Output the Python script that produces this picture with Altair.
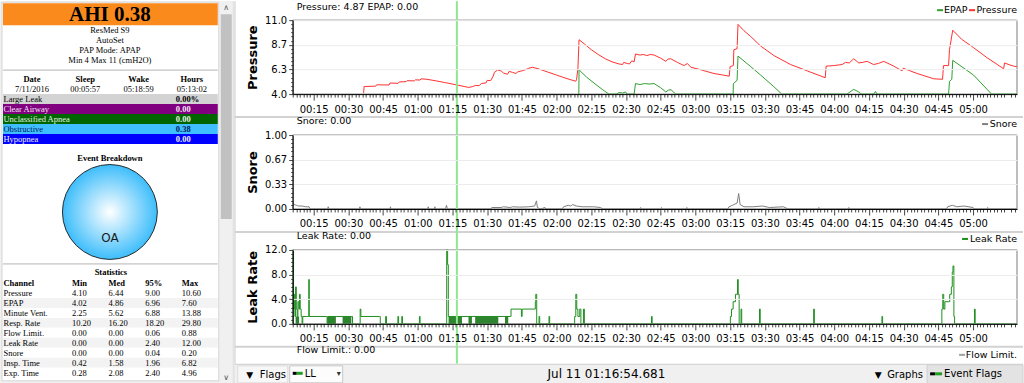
import json
import altair as alt
import pandas as pd

FONT = "DejaVu Sans"
SERIF = "Liberation Serif"

# ---------------- summary panel values ----------------
ahi = 0.38
device_lines = ["ResMed S9", "AutoSet", "PAP Mode: APAP", "Min 4 Max 11 (cmH2O)"]
session_headers = ["Date", "Sleep", "Wake", "Hours"]
session_values = ["7/11/2016", "00:05:57", "05:18:59", "05:13:02"]
event_names = ["Large Leak", "Clear Airway", "Unclassified Apnea", "Obstructive", "Hypopnea"]
event_values = ["0.00%", "0.00", "0.00", "0.38", "0.00"]
event_bg = ["#d3d3d3", "#800080", "#006400", "#3fbfff", "#0000ff"]
event_fg = ["#000000", "#f4e4f4", "#e4f4e4", "#00205a", "#f0f0ff"]
breakdown_labels = ["OA"]
breakdown_values = [0.38]
stat_channels = ["Pressure", "EPAP", "Minute Vent.", "Resp. Rate", "Flow Limit.",
                 "Leak Rate", "Snore", "Insp. Time", "Exp. Time"]
stat_cols = ["Min", "Med", "95%", "Max"]
stat_min = [4.10, 4.02, 2.25, 10.20, 0.00, 0.00, 0.00, 0.42, 0.28]
stat_med = [6.44, 4.86, 5.62, 16.20, 0.00, 0.00, 0.00, 1.58, 2.08]
stat_p95 = [9.00, 6.96, 6.88, 18.20, 0.06, 2.40, 0.04, 1.96, 2.40]
stat_max = [10.60, 7.60, 13.88, 29.80, 0.88, 12.00, 0.20, 6.82, 4.96]

# ---------------- time series (minutes after midnight) ----------------
session_start = 5.95     # 00:05:57
session_end = 318.98     # 05:18:59
cursor_t = 76.91         # 01:16:54.681
cursor_label = "Jul 11 01:16:54.681"
cursor_pressure = 4.87
cursor_epap = 0.00
cursor_snore = 0.00
cursor_leak = 0.00
cursor_flow = 0.00

pressure_t = [36.6, 36.8, 41.8, 42.2, 47.6, 48.0, 51.5, 52.0, 55.0, 55.4, 58.5, 59.0, 61.0, 61.4,
              64.0, 68.0, 72.0, 76.9, 80.0, 82.0, 83.5, 85.0, 86.5, 87.5, 89.5, 90.0, 91.5, 92.6,
              93.1, 94.5, 96.0, 97.0, 98.8, 99.5, 101.0, 102.5, 103.1, 105.0, 106.5, 108.0, 109.6,
              112.0, 116.0, 120.0, 124.0, 127.0, 128.3, 128.6, 129.2, 129.7, 132.0, 135.0, 138.0,
              141.0, 144.0, 147.0, 148.5, 149.0, 150.5, 151.5, 152.5, 153.5, 154.1, 156.0, 157.5,
              159.0, 160.5, 162.1, 165.0, 167.2, 168.0, 169.3, 172.2, 175.1, 176.5, 178.0, 182.3,
              188.0, 192.0, 194.6, 195.0, 196.4, 196.6, 198.0, 198.4, 201.0, 203.9, 208.2, 213.9,
              221.1, 228.3, 236.1, 236.5, 239.8, 243.4, 244.8, 246.5, 248.4, 250.6, 252.0, 254.2,
              257.0, 259.0, 261.4, 265.7, 269.3, 269.8, 275.8, 283.0, 286.8, 287.2, 289.4, 289.8,
              291.2, 295.0, 300.2, 306.0, 313.2, 313.6, 316.0, 317.5, 318.9]
pressure_v = [4.10, 4.72, 4.75, 4.88, 4.86, 5.05, 5.02, 5.15, 5.18, 5.27, 5.25, 5.35, 5.33, 5.45,
              5.40, 5.25, 5.08, 4.87, 4.72, 4.63, 4.70, 4.82, 4.80, 5.00, 5.06, 5.30, 5.28, 5.70,
              6.05, 6.28, 6.20, 6.00, 5.88, 6.15, 6.05, 5.95, 6.10, 6.20, 6.30, 6.45, 6.54,
              6.40, 6.10, 5.80, 5.50, 5.30, 5.22, 5.35, 6.40, 9.15, 8.75, 8.20, 7.75,
              7.35, 7.05, 6.85, 6.80, 7.00, 6.90, 6.85, 7.15, 7.05, 7.80, 7.70, 7.75,
              7.65, 7.75, 7.70, 7.40, 7.10, 7.30, 7.35, 7.00, 6.70, 6.90, 6.55, 6.30,
              5.95, 5.80, 5.70, 6.60, 6.70, 8.20, 8.30, 10.60, 10.00, 9.45, 8.55, 7.65,
              6.80, 6.20, 5.55, 6.65, 6.70, 6.80, 7.00, 6.95, 7.35, 6.95, 7.00, 7.10,
              6.80, 6.90, 7.10, 6.65, 6.20, 6.45, 5.95, 5.45, 5.40, 6.70, 6.70, 8.20,
              10.05, 9.20, 8.40, 7.45, 6.40, 6.95, 6.75, 6.65, 6.60]

epap_t = [129.6, 129.7, 133.0, 137.0, 140.0, 142.6, 146.0, 147.0, 148.5, 149.8, 150.5, 153.5,
          154.1, 156.0, 158.0, 160.0, 162.1, 165.0, 167.2, 168.5, 169.5, 171.5, 196.3, 196.4,
          198.0, 198.4, 203.9, 208.2, 213.9, 217.3, 245.5, 248.4, 250.6, 251.5, 257.0, 257.8,
          258.5, 289.4, 289.8, 290.8, 291.2, 300.2, 308.0, 318.9]
epap_v = [4.00, 6.30, 5.60, 4.90, 4.40, 4.00, 4.00, 4.15, 4.10, 4.20, 4.00, 4.00,
          5.00, 4.90, 5.00, 4.95, 5.00, 4.60, 4.20, 4.40, 4.40, 4.00, 4.00, 5.00,
          5.30, 7.60, 6.60, 5.80, 4.70, 4.00, 4.00, 4.45, 4.20, 4.00, 4.00, 4.25,
          4.00, 4.00, 5.20, 5.40, 7.20, 5.80, 4.00, 4.00]

snore_t = [6.0, 6.6, 7.5, 8.5, 10.0, 11.5, 13.0, 13.5, 21.0, 21.3, 21.6, 34.8, 35.0, 35.2, 48.0,
           48.2, 48.4, 64.3, 64.5, 64.7, 67.2, 67.4, 67.6, 72.0, 72.4, 72.8, 91.5, 92.0, 96.0,
           97.0, 100.0, 101.0, 104.0, 108.0, 110.5, 111.3, 111.7, 113.0, 115.0, 115.4, 122.5,
           123.0, 125.0, 126.0, 127.0, 128.5, 131.0, 136.0, 139.0, 140.0, 156.0, 156.3, 156.6,
           165.0, 165.3, 165.6, 176.0, 176.3, 176.6, 194.0, 194.5, 196.0, 198.0, 198.7, 199.3,
           201.0, 205.0, 209.0, 212.0, 218.0, 220.0, 233.0, 233.3, 233.6, 246.0, 246.3, 246.6,
           288.5, 289.0, 291.0, 293.0, 296.0, 300.0, 300.5, 306.0, 306.3, 306.6, 318.9]
snore_v = [0.09, 0.06, 0.05, 0.04, 0.04, 0.03, 0.03, 0.0, 0.0, 0.03, 0.0, 0.0, 0.03, 0.0, 0.0,
           0.03, 0.0, 0.0, 0.03, 0.0, 0.0, 0.03, 0.0, 0.0, 0.05, 0.0, 0.0, 0.02, 0.02,
           0.03, 0.02, 0.03, 0.025, 0.03, 0.04, 0.11, 0.02, 0.0, 0.02, 0.0, 0.0,
           0.03, 0.05, 0.04, 0.06, 0.04, 0.03, 0.03, 0.02, 0.0, 0.0, 0.02, 0.0,
           0.0, 0.02, 0.0, 0.0, 0.02, 0.0, 0.0, 0.03, 0.05, 0.08, 0.21, 0.06,
           0.03, 0.03, 0.04, 0.02, 0.03, 0.0, 0.0, 0.02, 0.0, 0.0, 0.02, 0.0,
           0.0, 0.03, 0.05, 0.03, 0.04, 0.02, 0.0, 0.0, 0.02, 0.0, 0.0]

leak_t = [5.95, 6.1, 6.3, 6.6, 6.9, 7.2, 7.5, 7.9, 8.2, 8.6, 8.9, 9.2, 9.6, 10.0, 10.3, 11.8, 12.9,
          13.1, 20.5, 20.8, 21.1, 31.5, 31.8, 34.9, 35.1, 35.4, 43.5, 43.8, 46.0, 46.1, 46.5, 51.3,
          51.4, 51.7, 53.0, 53.1, 53.4, 60.6, 60.7, 61.0, 72.4, 72.5, 72.9, 73.2, 100.2, 100.3,
          104.6, 104.8, 105.1, 110.6, 110.8, 111.0, 111.4, 112.3, 112.4, 112.7, 116.6, 116.7,
          117.0, 127.7, 127.8, 128.3, 128.7, 129.2, 130.0, 130.5, 131.5, 131.6, 132.0, 160.9,
          161.0, 161.3, 195.0, 195.1, 195.6, 196.3, 197.3, 198.2, 198.5, 198.9, 199.6, 199.7,
          200.0, 207.6, 207.7, 208.0, 231.0, 231.1, 231.4, 260.5, 260.6, 260.9, 286.4, 286.5,
          286.9, 287.3, 287.8, 289.5, 289.9, 290.6, 291.0, 291.3, 291.7, 292.0, 300.5, 300.6,
          300.9, 318.9]
leak_v = [0, 12.0, 2.4, 4.8, 1.2, 6.0, 2.4, 1.2, 3.6, 2.4, 4.8, 2.4, 1.2, 0, 1.2, 1.2, 7.2,
          1.2, 1.2, 0, 1.2, 1.2, 0, 0, 2.4, 1.2, 1.2, 0, 0, 1.2, 0, 0,
          1.2, 0, 0, 1.2, 0, 0, 1.2, 0, 0, 12.0, 9.6, 1.2, 1.2, 2.4,
          2.4, 1.2, 2.4, 2.4, 3.6, 4.8, 0, 0, 1.2, 0, 0, 1.2,
          0, 0, 1.2, 4.8, 2.4, 1.2, 2.4, 0, 0, 2.4, 0, 0,
          1.2, 0, 0, 1.2, 2.4, 3.6, 4.8, 7.2, 4.8, 0, 0, 2.4,
          0, 0, 2.4, 0, 0, 2.4, 0, 0, 1.2, 0, 0, 2.4,
          4.8, 2.4, 3.6, 3.6, 4.8, 6.0, 8.4, 9.4, 1.2, 0, 0, 2.4,
          0, 0]
# stretches where the leak trace is a dense comb of short spikes
leak_dense_start = [7.2, 21.0, 27.5, 73.3, 81.9, 84.8, 97.7]
leak_dense_end = [8.7, 24.6, 31.3, 79.1, 83.4, 94.8, 99.1]
leak_dense_level = [1.2, 1.2, 1.2, 1.2, 1.2, 1.2, 1.2]

# ---------------- axis tick positions ----------------
time_major = [15 * i for i in range(1, 21)]
time_minor = [1.5 * i for i in range(4, 213) if i % 10]
p_major = [4.0, 4.0 + 7 / 3, 4.0 + 14 / 3, 11.0]
p_minor = [4.0 + k * 7 / 18 for k in range(19) if k % 6]
s_major = [0.0, 1 / 3, 2 / 3, 1.0]
s_minor = [k / 18 for k in range(19) if k % 6]
l_major = [0.0, 4.0, 8.0, 12.0]
l_minor = [k * 2 / 3 for k in range(19) if k % 6]

W = 725        # plot width
PH = 93        # panel view height (plot bottom)
GAP = 22       # room for the time labels between panels


def cond(test, a, b):
    return {"condition": {"test": test, "value": a}, "value": b}


def is_major(majors):
    return f"indexof({json.dumps(majors)}, datum.value) >= 0"


hh = "floor(datum.value/60)"
mm = "(datum.value%60)"
time_label = (f"{is_major(time_major)} ? (({hh}<10)?'0':'') + {hh} + ':' + "
              f"(({mm}<10)?'0':'') + {mm} : ''")

xs = alt.Scale(domain=[session_start, session_end], nice=False, zero=False)

TIME_AXIS = alt.Axis(values=time_major + time_minor, labelExpr=time_label,
                     tickSize=cond(is_major(time_major), 6, 3), tickColor="#444444",
                     domainColor="#000000", labelFont=FONT, labelFontSize=10,
                     labelColor="#000000", labelPadding=4, labelOverlap=False,
                     labelFlush=False, labelBound=False, grid=False, title=None, zindex=1)


def value_axis(majors, minors, fmt, title):
    t = is_major(majors)
    return alt.Axis(values=majors + minors, labelExpr=f"{t} ? format(datum.value, '{fmt}') : ''",
                    tickSize=cond(t, 4, 2), tickColor="#444444", domainColor="#000000",
                    labelFont=FONT, labelFontSize=10, labelColor="#000000", labelPadding=2,
                    labelOverlap=False, labelFlush=False, labelBound=False,
                    grid=True, gridColor="#ececec", gridOpacity=cond(t, 1, 0),
                    title=title, titleFont=FONT, titleFontSize=13, titleFontWeight="bold",
                    titleColor="#000000", titleX=-40, titleBaseline="middle", zindex=1)


def txt(s, x, y, size=10, font=FONT, align="left", weight="normal", color="#000000"):
    return alt.Chart(alt.Data(values=[{"s": s}])).mark_text(
        font=font, fontSize=size, align=align, baseline="middle",
        fontWeight=weight, color=color).encode(x=alt.value(x), y=alt.value(y), text="s:N")


def box(x, x2, y, y2, fill="transparent", stroke=None, sw=1.0):
    props = {"fill": fill}
    if stroke is not None:
        props["stroke"] = stroke
        props["strokeWidth"] = sw
    return alt.Chart(alt.Data(values=[{"k": 0}])).mark_rect(**props).encode(
        x=alt.value(x), x2=alt.value(x2), y=alt.value(y), y2=alt.value(y2))


def hline(x, x2, y, color, sw=1.0):
    return alt.Chart(alt.Data(values=[{"k": 0}])).mark_rule(color=color, strokeWidth=sw).encode(
        x=alt.value(x), x2=alt.value(x2), y=alt.value(y))


cursor_df = pd.DataFrame({"t": [cursor_t]})


def cursor(y2, with_axis=True):
    return alt.Chart(cursor_df).mark_rule(color="#8fe88f", strokeWidth=2).encode(
        x=alt.X("t:Q", scale=xs, axis=TIME_AXIS if with_axis else None),
        y=alt.value(0), y2=alt.value(y2))


def legend(items, y):
    out = []
    for label, colour, dx0, tx, align in items:
        out.append(hline(dx0, dx0 + 6, y, colour, 2))
        out.append(txt(label, tx, y, size=9.5, align=align))
    return out


# ================= left summary panel =================
left_layers = [
    box(0, 236, 0, 383, fill="#f0f0f0"),
    box(2, 219, 1, 380, fill="#ffffff", stroke="#d4d4d4"),
    box(3, 218, 2, 24, fill="#fb8a1d"),
    txt(f"AHI {ahi:.2f}", 110, 14, size=21, font=SERIF, align="center", weight="bold"),
]
dev_df = pd.DataFrame({"i": list(range(len(device_lines))), "s": device_lines})
left_layers.append(alt.Chart(dev_df).mark_text(font=SERIF, fontSize=8.5, align="center").encode(
    x=alt.value(110), y=alt.Y("i:Q", scale=alt.Scale(domain=[0, 3], range=[29, 59]), axis=None),
    text="s:N"))
left_layers.append(hline(3, 218, 69, "#b4b4b4"))
ses_df = pd.DataFrame({"i": list(range(4)), "h": session_headers, "v": session_values})
ses_x = alt.X("i:Q", scale=alt.Scale(domain=[0, 3], range=[32, 192]), axis=None)
left_layers.append(alt.Chart(ses_df).mark_text(font=SERIF, fontSize=8.5, fontWeight="bold").encode(
    x=ses_x, y=alt.value(78), text="h:N"))
left_layers.append(alt.Chart(ses_df).mark_text(font=SERIF, fontSize=8.5).encode(
    x=ses_x, y=alt.value(88), text="v:N"))

ev_df = pd.DataFrame({"name": event_names, "val": event_values, "bg": event_bg, "fg": event_fg})
ev_y = alt.Y("name:N", sort=event_names,
             scale=alt.Scale(range=[93, 143], paddingInner=0, paddingOuter=0), axis=None)
left_layers.append(alt.Chart(ev_df).mark_rect().encode(
    x=alt.value(3), x2=alt.value(218), y=ev_y, color=alt.Color("bg:N", scale=None)))
left_layers.append(alt.Chart(ev_df).mark_text(font=SERIF, fontSize=8.5, align="left").encode(
    x=alt.value(3.5), y=ev_y, text="name:N", color=alt.Color("fg:N", scale=None)))
left_layers.append(alt.Chart(ev_df).mark_text(font=SERIF, fontSize=8.5, align="left",
                                              fontWeight="bold").encode(
    x=alt.value(176), y=ev_y, text="val:N", color=alt.Color("fg:N", scale=None)))

left_layers.append(txt("Event Breakdown", 110, 157, size=8.5, font=SERIF, align="center",
                       weight="bold"))
bd_df = pd.DataFrame({"label": breakdown_labels, "value": breakdown_values})
grad = alt.RadialGradient(gradient="radial", stops=[
    alt.GradientStop(color="#ffffff", offset=0), alt.GradientStop(color="#3dbdfb", offset=1)])
left_layers.append(alt.Chart(bd_df).mark_arc(radius=47.5, stroke="#2b2b2b", strokeWidth=1,
                                             fill=grad).encode(
    theta=alt.Theta("value:Q", stack=True), x=alt.value(110), y=alt.value(211)))
left_layers.append(alt.Chart(bd_df).mark_text(radius=26, font=FONT, fontSize=12,
                                              color="#1a1a1a").encode(
    theta=alt.Theta("value:Q", stack=True), x=alt.value(110), y=alt.value(211), text="label:N"))

left_layers.append(hline(3, 218, 263, "#b4b4b4"))
left_layers.append(txt("Statistics", 111, 271, size=8.5, font=SERIF, align="center",
                       weight="bold"))
st_df = pd.DataFrame({"channel": stat_channels, "stripe": [i % 2 for i in range(len(stat_channels))]})
st_y = alt.Y("channel:N", sort=stat_channels,
             scale=alt.Scale(range=[287, 377], paddingInner=0, paddingOuter=0), axis=None)
left_layers.append(alt.Chart(st_df).mark_rect().encode(
    x=alt.value(3), x2=alt.value(218), y=st_y,
    color=alt.condition("datum.stripe == 1", alt.value("#f3f3f3"), alt.value("#ffffff"))))
left_layers.append(alt.Chart(st_df).mark_text(font=SERIF, fontSize=8.5, align="left").encode(
    x=alt.value(3.5), y=st_y, text="channel:N"))
st_rows = []
for ci, vals in enumerate([stat_min, stat_med, stat_p95, stat_max], start=1):
    for ch, v in zip(stat_channels, vals):
        st_rows.append({"channel": ch, "col": ci, "text": f"{v:.2f}"})
st_long = pd.DataFrame(st_rows)
st_x = alt.X("col:Q", scale=alt.Scale(domain=[1, 4], range=[72, 182]), axis=None)
left_layers.append(alt.Chart(st_long).mark_text(font=SERIF, fontSize=8.5, align="left").encode(
    x=st_x, y=st_y, text="text:N"))
hdr_df = pd.DataFrame({"col": [1, 2, 3, 4], "name": stat_cols})
left_layers.append(alt.Chart(hdr_df).mark_text(font=SERIF, fontSize=8.5, align="left",
                                               fontWeight="bold").encode(
    x=st_x, y=alt.value(282), text="name:N"))
left_layers.append(txt("Channel", 3.5, 282, size=8.5, font=SERIF, weight="bold"))

left_layers += [
    box(220, 233, 0, 383, fill="#f0f0f0"),
    box(221, 232, 13, 218, fill="#c1c1c1"),
    txt("∧", 226.5, 7, size=8, align="center", color="#555555"),
    txt("∨", 226.5, 377, size=8, align="center", color="#555555"),
    box(233, 236, 0, 383, fill="#e2e2e2"),
]
left = alt.layer(*left_layers).resolve_scale(x="independent", y="independent").properties(
    width=293, height=383)

# ================= right graph panels =================
SPAN = PH + GAP   # cursor drawn through the label gap below each panel

# --- pressure ---
yP = alt.Scale(domain=[4, 11], range=[PH, 19], nice=False, zero=False)
P_AXIS = value_axis(p_major, p_minor, ".1f", "Pressure")
p_df = pd.DataFrame({"t": pressure_t + epap_t, "v": pressure_v + epap_v,
                     "series": ["Pressure"] * len(pressure_t) + ["EPAP"] * len(epap_t)})
p_lines = alt.Chart(p_df).mark_line(strokeWidth=1, clip=True).encode(
    x=alt.X("t:Q", scale=xs, axis=TIME_AXIS),
    y=alt.Y("v:Q", scale=yP, axis=P_AXIS),
    color=alt.Color("series:N", scale=alt.Scale(domain=["EPAP", "Pressure"],
                                                range=["#2f9f2f", "#ff3030"]), legend=None))
pressure = alt.layer(
    box(0, W, 19, PH, stroke="#7a7a7a"),
    p_lines,
    cursor(SPAN),
    txt(f"Pressure: {cursor_pressure:.2f} EPAP: {cursor_epap:.2f}", 4, 6, size=9.5),
    *legend([("EPAP", "#2f9f2f", 645, 652, "left"), ("Pressure", "#ff3030", 677, W, "right")], 9),
).properties(width=W, height=PH)

# --- snore ---
yS = alt.Scale(domain=[0, 1], range=[PH, 19], nice=False, zero=False)
s_df = pd.DataFrame({"t": snore_t, "v": snore_v})
s_line = alt.Chart(s_df).mark_line(strokeWidth=1, color="#808080", clip=True).encode(
    x=alt.X("t:Q", scale=xs, axis=TIME_AXIS),
    y=alt.Y("v:Q", scale=yS, axis=value_axis(s_major, s_minor, ".2f", "Snore")))
snore = alt.layer(
    hline(-58, 731, 1, "#d2d2d2", 2),
    box(0, W, 19, PH, stroke="#7a7a7a"),
    s_line,
    cursor(SPAN),
    txt(f"Snore: {cursor_snore:.2f}", 4, 5, size=9.5),
    *legend([("Snore", "#808080", 690, W, "right")], 8),
).properties(width=W, height=PH)

# --- leak rate ---
yL = alt.Scale(domain=[0, 12], range=[PH, 19], nice=False, zero=False)
L_AXIS = value_axis(l_major, l_minor, ".1f", "Leak Rate")
l_df = pd.DataFrame({"t": leak_t, "v": leak_v})
dense_df = pd.DataFrame({"t0": leak_dense_start, "t1": leak_dense_end,
                         "lo": [0.0] * len(leak_dense_start), "hi": leak_dense_level})
l_dense = alt.Chart(dense_df).mark_rect(color="#0b6e0b", opacity=0.85).encode(
    x=alt.X("t0:Q", scale=xs, axis=TIME_AXIS), x2="t1:Q",
    y=alt.Y("lo:Q", scale=yL, axis=L_AXIS), y2="hi:Q")
l_line = alt.Chart(l_df).mark_line(strokeWidth=1, color="#1f8f1f", interpolate="step-after",
                                   clip=True).encode(
    x=alt.X("t:Q", scale=xs, axis=TIME_AXIS),
    y=alt.Y("v:Q", scale=yL, axis=L_AXIS))
leak = alt.layer(
    hline(-58, 731, 1, "#d2d2d2", 2),
    box(0, W, 19, PH, stroke="#7a7a7a"),
    l_dense,
    l_line,
    cursor(SPAN),
    txt(f"Leak Rate: {cursor_leak:.2f}", 4, 5, size=9.5),
    *legend([("Leak Rate", "#1f8f1f", 670, W, "right")], 8),
).properties(width=W, height=PH)

# --- flow limitation (cut off) + bottom bar ---
B = 18  # bar top inside this view
bottom = alt.layer(
    hline(-58, 731, 1, "#d2d2d2", 2),
    cursor(B, with_axis=False),
    txt(f"Flow Limit.: {cursor_flow:.2f}", 4, 4, size=9.5),
    *legend([("Flow Limit.", "#a0a0a0", 667, W, "right")], 9),
    box(-58, 731, B, B + 20, fill="#f0f0f0"),
    hline(-58, 731, B + 0.5, "#d0d0d0", 1),
    box(-55, -5, B + 2, B + 19, fill="#f7f7f7", stroke="#dddddd"),
    txt("▼", -43, B + 11, size=9, align="center"),
    txt("Flags", -33, B + 11, size=10),
    box(-3, 50, B + 2, B + 19, fill="#fcfcfc", stroke="#c8c8c8"),
    hline(0, 4, B + 9.5, "#000000", 3),
    hline(4, 10, B + 9.5, "#1f9f1f", 3),
    txt("LL", 12, B + 10.5, size=10),
    txt("▾", 46, B + 10, size=8, align="center", color="#333333"),
    txt(cursor_label, 314, B + 10.5, size=12, align="center"),
    txt("▼", 586, B + 11, size=9, align="center"),
    txt("Graphs", 595, B + 11, size=10),
    box(635, 731, B + 1, B + 20, fill="#e3e3e3", stroke="#cfcfcf"),
    hline(638, 643, B + 10, "#000000", 3),
    hline(643, 650, B + 10, "#1f9f1f", 3),
    txt("Event Flags", 652, B + 10.5, size=10),
).properties(width=W, height=B + 20)

right = alt.vconcat(pressure, snore, leak, bottom, spacing=GAP, bounds="flush")
chart = alt.hconcat(left, right, spacing=0, bounds="flush").properties(
    padding=0, background="#ffffff").configure_view(strokeWidth=0)

chart.save("out.html", embed_options={"renderer": "svg", "actions": False})
